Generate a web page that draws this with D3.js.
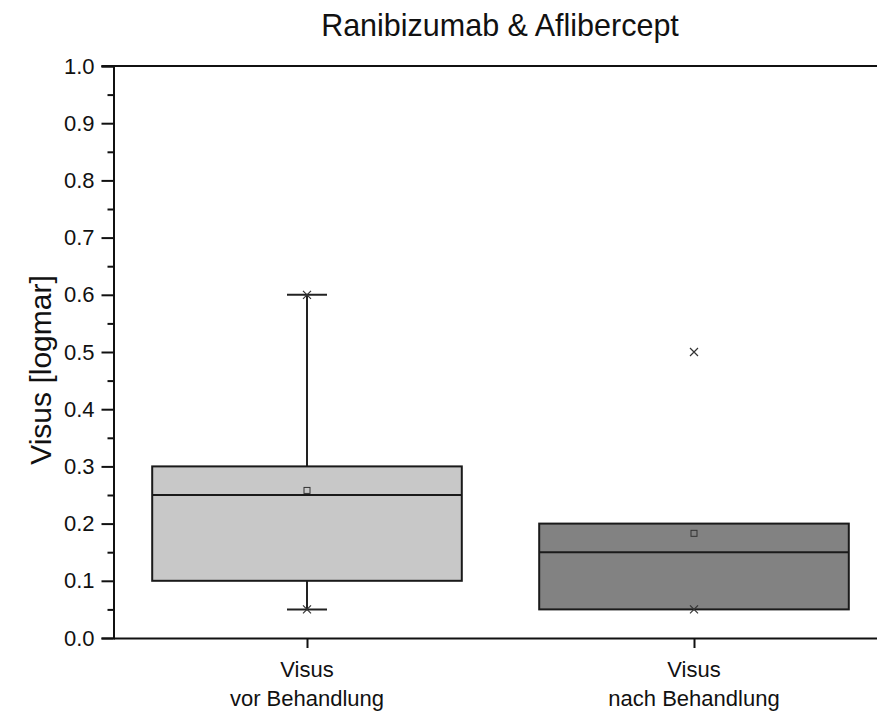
<!DOCTYPE html>
<html>
<head>
<meta charset="utf-8">
<script src="https://cdn.jsdelivr.net/npm/d3@7/dist/d3.min.js"></script>
<style>
  html, body { margin: 0; padding: 0; background: #fff; }
  svg { display: block; font-family: "Liberation Sans", Arial, sans-serif; }
</style>
</head>
<body>
<svg id="chart" width="877" height="716"></svg>
<script>
// Box statistics per group (logMAR)
const categories = ["Visus\nvor Behandlung", "Visus\nnach Behandlung"];
const q1Values = [0.10, 0.05];
const medianValues = [0.25, 0.15];
const q3Values = [0.30, 0.20];
const whiskerLow = [0.05, 0.05];
const whiskerHigh = [0.60, 0.20];
const meanValues = [0.258, 0.183];
const minValues = [0.05, 0.05];
const maxValues = [0.60, 0.50];
const boxFills = ["#c8c8c8", "#828282"];
const yTicks = [0.0, 0.1, 0.2, 0.3, 0.4, 0.5, 0.6, 0.7, 0.8, 0.9, 1.0];
const yMinorTicks = [0.05, 0.15, 0.25, 0.35, 0.45, 0.55, 0.65, 0.75, 0.85, 0.95];

const svg = d3.select("#chart");
const plotLeft = 113.5, plotRight = 887.5, plotTop = 66, plotBottom = 638;

// Category positions 1 and 2 on a continuous axis from 0.5 to 2.5
const x = d3.scaleLinear().domain([0.5, 2.5]).range([plotLeft, plotRight]);
const y = d3.scaleLinear().domain([0, 1]).range([plotBottom, plotTop]);
const boxWidth = x(1.4) - x(0.6);
const capWidth = 40;

const data = categories.map((c, i) => ({
  label: c, pos: i + 1,
  q1: q1Values[i], med: medianValues[i], q3: q3Values[i],
  lo: whiskerLow[i], hi: whiskerHigh[i],
  mean: meanValues[i], min: minValues[i], max: maxValues[i],
  fill: boxFills[i]
}));

const g = svg.append("g");

// Whiskers
data.forEach(d => {
  const cx = x(d.pos);
  if (d.hi > d.q3) {
    g.append("line").attr("x1", cx).attr("x2", cx).attr("y1", y(d.q3)).attr("y2", y(d.hi))
      .attr("stroke", "#222").attr("stroke-width", 2);
    g.append("line").attr("x1", cx - capWidth / 2).attr("x2", cx + capWidth / 2)
      .attr("y1", y(d.hi)).attr("y2", y(d.hi)).attr("stroke", "#222").attr("stroke-width", 2);
  }
  if (d.lo < d.q1) {
    g.append("line").attr("x1", cx).attr("x2", cx).attr("y1", y(d.q1)).attr("y2", y(d.lo))
      .attr("stroke", "#222").attr("stroke-width", 2);
    g.append("line").attr("x1", cx - capWidth / 2).attr("x2", cx + capWidth / 2)
      .attr("y1", y(d.lo)).attr("y2", y(d.lo)).attr("stroke", "#222").attr("stroke-width", 2);
  }
});

// Boxes
g.selectAll("rect.box").data(data).join("rect")
  .attr("class", "box")
  .attr("x", d => x(d.pos) - boxWidth / 2)
  .attr("width", boxWidth)
  .attr("y", d => y(d.q3))
  .attr("height", d => y(d.q1) - y(d.q3))
  .attr("fill", d => d.fill)
  .attr("stroke", "#1a1a1a").attr("stroke-width", 2);

// Medians
g.selectAll("line.median").data(data).join("line")
  .attr("class", "median")
  .attr("x1", d => x(d.pos) - boxWidth / 2)
  .attr("x2", d => x(d.pos) + boxWidth / 2)
  .attr("y1", d => y(d.med)).attr("y2", d => y(d.med))
  .attr("stroke", "#1a1a1a").attr("stroke-width", 2);

// Mean markers (small open squares)
g.selectAll("rect.mean").data(data).join("rect")
  .attr("class", "mean")
  .attr("x", d => x(d.pos) - 3).attr("y", d => y(d.mean) - 3)
  .attr("width", 6).attr("height", 6)
  .attr("fill", "none").attr("stroke", "#333").attr("stroke-width", 1);

// Min / max markers (crosses)
const cross = (cx, cy) => {
  const s = 4;
  g.append("path")
    .attr("d", `M${cx - s},${cy - s}L${cx + s},${cy + s}M${cx - s},${cy + s}L${cx + s},${cy - s}`)
    .attr("stroke", "#333").attr("stroke-width", 1.2).attr("fill", "none");
};
data.forEach(d => { cross(x(d.pos), y(d.min)); cross(x(d.pos), y(d.max)); });

// Y axis with major and minor ticks
const yAxis = svg.append("g").attr("transform", `translate(${plotLeft},0)`)
  .call(d3.axisLeft(y).tickValues(yTicks).tickFormat(d3.format(".1f")).tickSize(12).tickPadding(7));
yAxis.select(".domain").attr("stroke", "#111").attr("stroke-width", 2);
yAxis.selectAll(".tick line").attr("stroke", "#111").attr("stroke-width", 2);
yAxis.selectAll(".tick text").attr("font-size", 22).attr("fill", "#111")
  .attr("font-family", "'Liberation Sans', Arial, sans-serif");

const yMinor = svg.append("g").attr("transform", `translate(${plotLeft},0)`)
  .call(d3.axisLeft(y).tickValues(yMinorTicks).tickFormat("").tickSize(6));
yMinor.select(".domain").remove();
yMinor.selectAll(".tick line").attr("stroke", "#111").attr("stroke-width", 2);

// X axis (bottom) and frame line on top
const xAxis = svg.append("g").attr("transform", `translate(0,${plotBottom})`)
  .call(d3.axisBottom(x).tickValues([1, 2]).tickFormat("").tickSize(10).tickSizeOuter(0));
xAxis.select(".domain").attr("stroke", "#111").attr("stroke-width", 2);
xAxis.selectAll(".tick line").attr("stroke", "#111").attr("stroke-width", 2);

svg.append("line").attr("x1", plotLeft - 12).attr("x2", plotRight).attr("y1", plotTop).attr("y2", plotTop)
  .attr("stroke", "#111").attr("stroke-width", 2);

// Category labels (two lines each)
data.forEach(d => {
  const t = svg.append("text").attr("text-anchor", "middle")
    .attr("font-size", 22).attr("fill", "#111");
  d.label.split("\n").forEach((line, i) => {
    t.append("tspan").attr("x", x(d.pos)).attr("y", 677 + i * 29).text(line);
  });
});

// Axis title
svg.append("text")
  .attr("transform", `translate(51,370) rotate(-90)`)
  .attr("text-anchor", "middle").attr("font-size", 30).attr("fill", "#111")
  .text("Visus [logmar]");

// Chart title
svg.append("text").attr("x", 500).attr("y", 36).attr("text-anchor", "middle")
  .attr("font-size", 30.5).attr("fill", "#111")
  .text("Ranibizumab & Aflibercept");
</script>
</body>
</html>
